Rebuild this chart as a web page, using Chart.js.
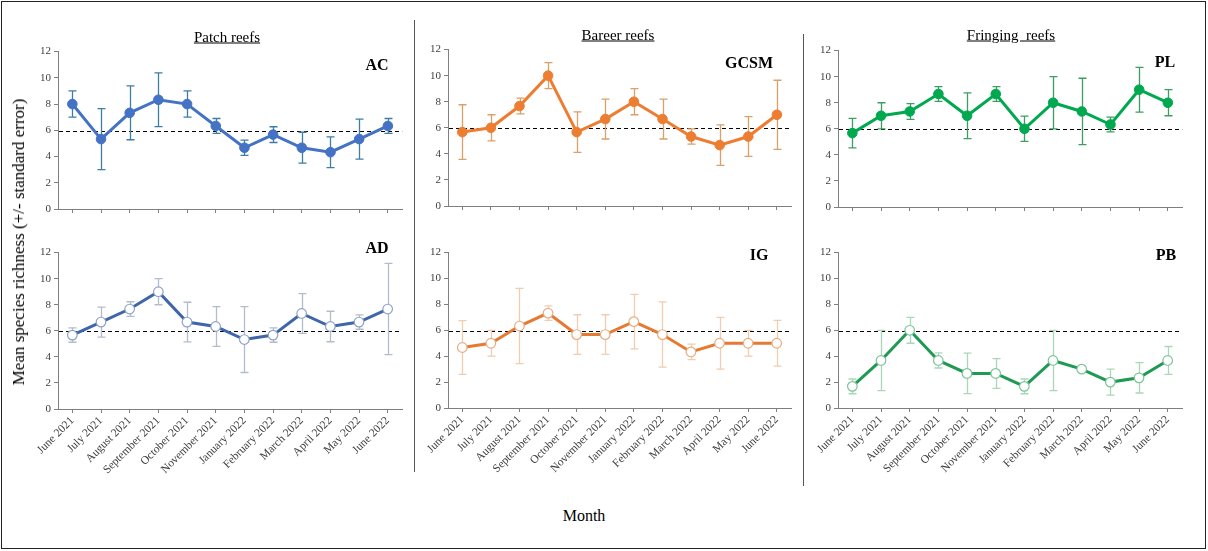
<!DOCTYPE html>
<html><head><meta charset="utf-8">
<script src="https://cdn.jsdelivr.net/npm/chart.js@4.4.1/dist/chart.umd.min.js"></script>
<style>
html,body{margin:0;padding:0;background:#fff;}
body{width:1208px;height:551px;position:relative;overflow:hidden;font-family:"Liberation Serif","Times New Roman",serif;color:#000;}
.abs{position:absolute;white-space:nowrap;}
.c{transform:translate(-50%,-50%);}
canvas{position:absolute;}
.tag{font-weight:bold;font-size:16px;}
.ttl{font-size:15px;text-decoration:underline;}
</style></head><body>
<script>
// ---------- data ----------
const months = ["June 2021","July 2021","August 2021","September 2021","October 2021","November 2021","January 2022","February 2022","March 2022","April 2022","May 2022","June 2022"];
const refValue = 5.95;
const acMean   = [8.00,5.33,7.33,8.33,8.00,6.33,4.67,5.67,4.67,4.33,5.33,6.33];
const acSE     = [1.00,2.33,2.05,2.05,1.00,0.57,0.58,0.60,1.18,1.17,1.52,0.57];
const adMean   = [5.67,6.67,7.67,9.00,6.67,6.33,5.33,5.67,7.33,6.33,6.67,7.67];
const adSE     = [0.55,1.15,0.56,1.00,1.52,1.52,2.53,0.55,1.52,1.17,0.55,3.50];
const gcsmMean = [5.67,6.00,7.67,10.00,5.67,6.67,8.00,6.67,5.33,4.67,5.33,7.00];
const gcsmSE   = [2.10,1.00,0.60,1.00,1.55,1.53,1.00,1.53,0.58,1.55,1.53,2.65];
const igMean   = [4.67,5.00,6.33,7.33,5.67,5.67,6.67,5.67,4.33,5.00,5.00,5.00];
const igSE     = [2.08,1.00,2.90,0.56,1.53,1.53,2.10,2.52,0.60,2.00,1.00,1.76];
const plMean   = [5.67,7.00,7.33,8.67,7.00,8.67,6.00,8.00,7.33,6.33,9.00,8.00];
const plSE     = [1.13,1.00,0.60,0.56,1.75,0.56,0.97,2.00,2.55,0.57,1.72,1.00];
const pbMean   = [1.67,3.67,6.00,3.67,2.67,2.67,1.67,3.67,3.00,2.00,2.33,3.67];
const pbSE     = [0.57,2.33,1.00,0.58,1.56,1.15,0.57,2.33,0.00,1.00,1.17,1.08];

// ---------- plugins ----------
const errPlugin = {
  id:'errbars',
  beforeDatasetsDraw(chart, args, opts){
    const ctx = chart.ctx, ys = chart.scales.y, area = chart.chartArea;
    ctx.save();
    ctx.strokeStyle = '#000'; ctx.lineWidth = 1; ctx.setLineDash([4,3]);
    const yr = Math.round(ys.getPixelForValue(opts.ref)) + 0.5;
    ctx.beginPath(); ctx.moveTo(area.left+1, yr); ctx.lineTo(area.right, yr); ctx.stroke();
    ctx.restore();
    const meta = chart.getDatasetMeta(0);
    const mean = chart.data.datasets[0].data;
    ctx.save();
    ctx.strokeStyle = opts.color; ctx.lineWidth = 1.3;
    meta.data.forEach((pt, i) => {
      const se = opts.se[i]; if (!se) return;
      const x = Math.round(pt.x) + 0.5;
      const y1 = ys.getPixelForValue(mean[i] + se), y2 = ys.getPixelForValue(mean[i] - se);
      ctx.beginPath();
      ctx.moveTo(x, y1); ctx.lineTo(x, y2);
      ctx.moveTo(x-4, y1); ctx.lineTo(x+4, y1);
      ctx.moveTo(x-4, y2); ctx.lineTo(x+4, y2);
      ctx.stroke();
    });
    ctx.restore();
  }
};

function addText(txt, x, y, cls){
  const d = document.createElement('div');
  d.className = 'abs c ' + (cls||'');
  d.style.left = x + 'px'; d.style.top = y + 'px';
  d.textContent = txt; document.body.appendChild(d); return d;
}

function makePanel(p){
  const cv = document.createElement('canvas');
  cv.width = p.w; cv.height = p.h;
  cv.style.left = p.left + 'px'; cv.style.top = p.top + 'px';
  cv.style.width = p.w + 'px'; cv.style.height = p.h + 'px';
  document.body.appendChild(cv);
  new Chart(cv.getContext('2d'), {
    type:'line',
    data:{ labels: months, datasets:[{
      data: p.mean,
      borderColor: p.line, borderWidth: 3, tension: 0,
      pointRadius: 4.8, pointHoverRadius: 4.8,
      pointBackgroundColor: p.open ? '#ffffff' : p.line,
      pointBorderColor: p.open ? p.pointBorder : p.line,
      pointBorderWidth: p.open ? 1.2 : 1,
      clip: false
    }]},
    options:{
      responsive:false, animation:false, devicePixelRatio:1,
      layout:{padding:{top:8,right:4,left:0,bottom:0}},
      plugins:{ legend:{display:false}, tooltip:{enabled:false}, title:{display:false},
        errbars:{ se: p.se, color: p.err, ref: refValue } },
      scales:{
        x:{
          type:'category', offset:true,
          grid:{ display:true, drawOnChartArea:false, drawTicks:true, tickLength:4, color:'#7f7f7f', offset:false },
          border:{ display:true, color:'#7f7f7f', width:1 },
          ticks:{ display: p.showX, autoSkip:false, minRotation:45, maxRotation:45, padding:1,
            color:'#404040', font:{ family:'"Liberation Serif", serif', size:11.5 } },
          afterFit(s){ s.height = p.xH; }
        },
        y:{
          min:0, max:12,
          grid:{ display:true, drawOnChartArea:false, drawTicks:true, tickLength:4, color:'#7f7f7f' },
          border:{ display:true, color:'#7f7f7f', width:1 },
          ticks:{ stepSize:2, padding:3, color:'#404040', font:{ family:'"Liberation Serif", serif', size:11 } },
          afterFit(s){ s.width = 30; }
        }
      }
    },
    plugins:[errPlugin]
  });
}

const panels = [
  {left:28,  top:42, w:380, h:177, xH:10, showX:false, mean:acMean,   se:acSE,   line:'#4472C4', err:'#3E7EA2', open:false},
  {left:418, top:40, w:379, h:176, xH:10, showX:false, mean:gcsmMean, se:gcsmSE, line:'#ED7D31', err:'#D9A06A', open:false},
  {left:808, top:41, w:380, h:176, xH:10, showX:false, mean:plMean,   se:plSE,   line:'#00A94F', err:'#3E9E62', open:false},
  {left:28,  top:243, w:380, h:232, xH:66, showX:true, mean:adMean,   se:adSE,   line:'#3F65AA', err:'#B3BCCB', open:true, pointBorder:'#8FA3C8'},
  {left:418, top:243, w:379, h:231, xH:66, showX:true, mean:igMean,   se:igSE,   line:'#E67A33', err:'#F0CDAE', open:true, pointBorder:'#E8AD82'},
  {left:808, top:243, w:380, h:231, xH:66, showX:true, mean:pbMean,   se:pbSE,   line:'#1E9A52', err:'#A9D7B9', open:true, pointBorder:'#7CC49A'}
];
panels.forEach(makePanel);

// ---------- texts ----------
addText('Patch reefs', 227, 37, 'ttl');
addText('Bareer reefs', 618, 35, 'ttl');
addText('Fringing\u00a0 reefs', 1011, 35, 'ttl');
addText('AC', 377, 65, 'tag');
addText('GCSM', 749, 63, 'tag');
addText('PL', 1165, 62, 'tag');
addText('AD', 377, 248, 'tag');
addText('IG', 759, 255, 'tag');
addText('PB', 1166, 255, 'tag');
const yt = addText('Mean species richness (+/- standard error)', 19, 242, '');
yt.style.fontSize = '17px';
yt.style.transform = 'translate(-50%,-50%) rotate(-90deg)';
const mt = addText('Month', 584, 516, ''); mt.style.fontSize = '16px';

function box(l,t,w,h,css){ const d=document.createElement('div'); d.className='abs'; d.style.left=l+'px'; d.style.top=t+'px'; d.style.width=w+'px'; d.style.height=h+'px'; Object.assign(d.style, css||{}); document.body.appendChild(d); }
box(414, 20, 0, 452, {borderLeft:'1.5px solid #555'});
box(803, 34, 0, 452, {borderLeft:'1.5px solid #555'});
box(1, 1, 1203, 546, {border:'1.5px solid #222'});
</script>
</body></html>
